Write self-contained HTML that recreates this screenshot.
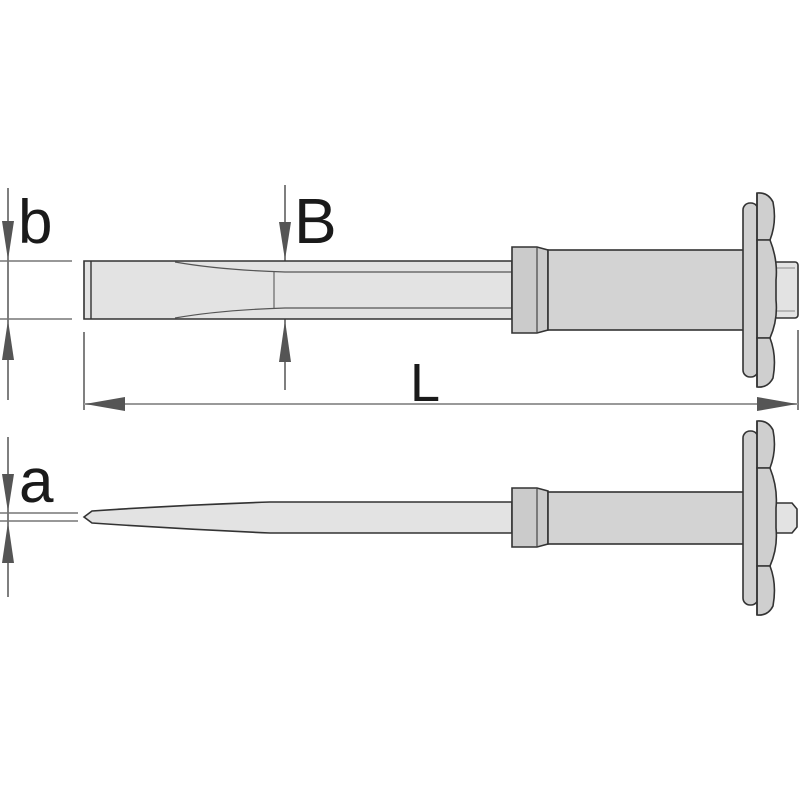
<!DOCTYPE html>
<html><head><meta charset="utf-8"><style>
html,body{margin:0;padding:0;background:#fff;width:800px;height:800px;overflow:hidden}
svg{display:block}
text{font-family:"Liberation Sans",sans-serif;fill:#1a1a1a}
</style></head><body>
<svg width="800" height="800" viewBox="0 0 800 800" xmlns="http://www.w3.org/2000/svg">
<defs>
<g id="guard">
  <rect x="743" y="-87" width="15" height="174" rx="7" fill="#d0d0d0" stroke="#333" stroke-width="1.6"/>
  <path d="M757,-97 Q768,-98 773,-88 Q777,-68 770,-50 L757,-50 Z" fill="#cfcfcf" stroke="#333" stroke-width="1.6"/>
  <path d="M757,-50 L770,-50 Q778,-30 776,-10 L776,10 Q778,30 770,48 L757,48 Z" fill="#cfcfcf" stroke="#333" stroke-width="1.6"/>
  <path d="M757,48 L770,48 Q777,66 773,88 Q768,98 757,97 Z" fill="#cfcfcf" stroke="#333" stroke-width="1.6"/>
  <line x1="757" y1="-97" x2="757" y2="97" stroke="#333" stroke-width="1.6"/>
</g>
</defs>

<g stroke="#555" stroke-width="1.5" fill="none">
  <line x1="8" y1="188" x2="8" y2="400"/>
  <line x1="0" y1="261" x2="72" y2="261" stroke="#777"/>
  <line x1="0" y1="319" x2="72" y2="319" stroke="#777"/>
  <line x1="285" y1="185" x2="285" y2="390"/>
  <line x1="84" y1="332" x2="84" y2="410"/>
  <line x1="798" y1="330" x2="798" y2="410"/>
  <line x1="84" y1="404" x2="798" y2="404" stroke="#999" stroke-width="2"/>
  <line x1="8" y1="437" x2="8" y2="597"/>
  <line x1="0" y1="513" x2="78" y2="513" stroke="#777"/>
  <line x1="0" y1="521" x2="78" y2="521" stroke="#777"/>
</g>
<g fill="#555">
  <polygon points="2,221 14,221 8,260"/>
  <polygon points="2,360 14,360 8,320"/>
  <polygon points="279,222 291,222 285,260"/>
  <polygon points="279,362 291,362 285,320"/>
  <polygon points="85,404 125,397 125,411"/>
  <polygon points="797,404 757,397 757,411"/>
  <polygon points="2,474 14,474 8,512"/>
  <polygon points="2,563 14,563 8,522"/>
</g>
<text x="18" y="243" font-size="62">b</text>
<text x="294" y="243" font-size="64">B</text>
<text x="410" y="401" font-size="54">L</text>
<text x="19" y="502" font-size="62">a</text>

<rect x="512" y="262" width="6" height="56" fill="#e3e3e3"/>
<path d="M84,261 L512,261 L512,319 L84,319 Z" fill="#e3e3e3" stroke="#333" stroke-width="1.6"/>
<line x1="91" y1="261" x2="91" y2="319" stroke="#333" stroke-width="1.4"/>
<path d="M175,262 Q220,270 285,272 L512,272" fill="none" stroke="#555" stroke-width="1.2"/>
<path d="M175,318 Q220,310 285,308 L512,308" fill="none" stroke="#555" stroke-width="1.2"/>
<line x1="274" y1="272" x2="274" y2="308" stroke="#666" stroke-width="1.2"/>
<path d="M512,247 L537,247 L548,250 L548,330 L537,333 L512,333 Z" fill="#cbcbcb" stroke="#333" stroke-width="1.6"/>
<line x1="537" y1="247" x2="537" y2="333" stroke="#444" stroke-width="1.2"/>
<rect x="548" y="250" width="196" height="80" fill="#d3d3d3" stroke="#333" stroke-width="1.6"/>
<rect x="774" y="262" width="24" height="56" rx="3" fill="#e3e3e3" stroke="#333" stroke-width="1.6"/>
<line x1="775" y1="268" x2="795" y2="268" stroke="#888"/>
<line x1="775" y1="311" x2="795" y2="311" stroke="#888"/>
<g transform="translate(0,290)"><use href="#guard"/></g>

<path d="M84,517 L92,511 Q180,505 270,502 L512,502 L512,533 L270,533 Q180,529 92,523 Z" fill="#e3e3e3" stroke="#333" stroke-width="1.6"/>
<path d="M512,488 L537,488 L548,491 L548,544 L537,547 L512,547 Z" fill="#cbcbcb" stroke="#333" stroke-width="1.6"/>
<line x1="537" y1="488" x2="537" y2="547" stroke="#444" stroke-width="1.2"/>
<rect x="548" y="492" width="196" height="52" fill="#d3d3d3" stroke="#333" stroke-width="1.6"/>
<path d="M774,503 L792,503 L797,509 L797,527 L792,533 L774,533 Z" fill="#e3e3e3" stroke="#333" stroke-width="1.6"/>
<g transform="translate(0,518)"><use href="#guard"/></g>
</svg>
</body></html>
